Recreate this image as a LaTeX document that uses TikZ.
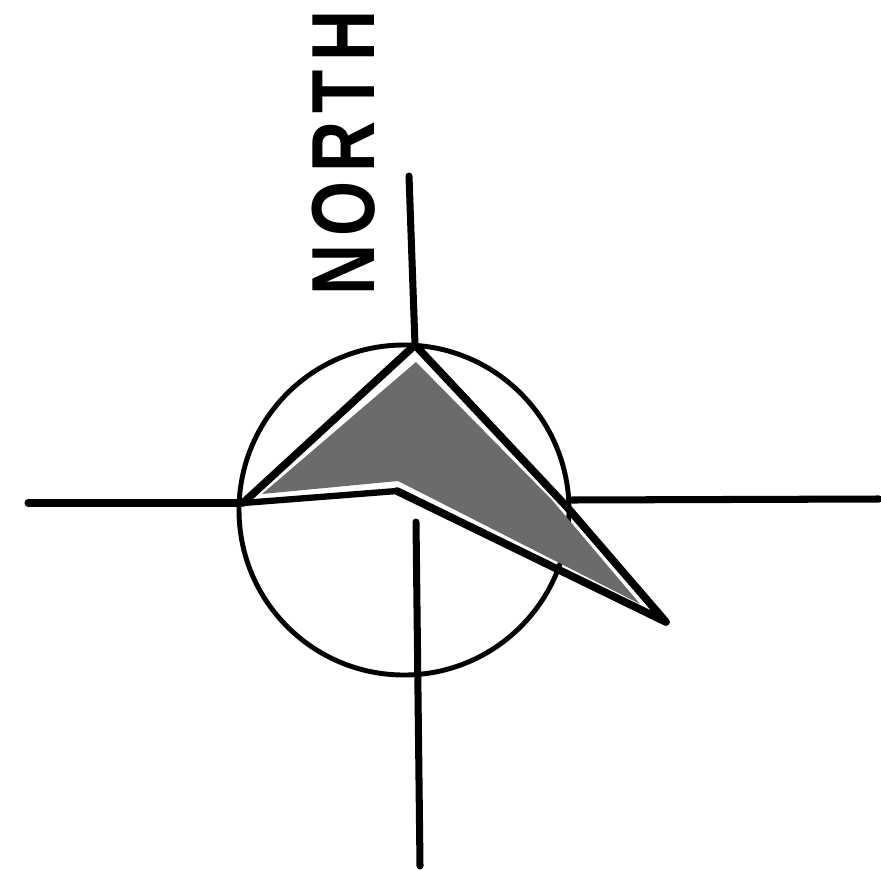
\documentclass[tikz,border=0pt]{standalone}
\usepackage{fontspec}
\setmainfont{Liberation Sans}
\usepackage{tikz}
\usetikzlibrary{positioning}

\begin{document}
\begin{tikzpicture}[x=0.02cm,y=-0.02cm,
  axisline/.style={line width=4pt, line cap=round},
  outline/.style={line width=4.4pt, line join=round, line cap=round}]
\def\ox{404}    % circle centre x
\def\oy{510}    % circle centre y
\useasboundingbox (0,0) rectangle (881,871);
%% Circle behind everything
\coordinate (centre) at (\ox,\oy);
\draw[line width=2.8pt] (centre) circle [radius=0.02*165 cm];
%% Compass lines
\coordinate (northend) at (409,176);
\coordinate (northfoot) at (415,345);
\coordinate (westend) at (28,503);
\coordinate (westfoot) at (240,503);
\coordinate (eastfoot) at (572,500);
\coordinate (eastend) at (879,499);
\coordinate (southtop) at (416,522);
\coordinate (southend) at (420,866);
\draw[axisline] (northend) -- (northfoot);
\draw[axisline] (westend) -- (westfoot);
\draw[axisline] (eastfoot) -- (eastend);
\draw[axisline] (southtop) -- (southend);
%% Shaded pointer, inset from its outline
\fill[black!58] (416,362) -- (552,500) -- (640,604) -- (398,481) -- (262,494) -- cycle;
%% Pointer outline
\coordinate (apex) at (415,345);
\coordinate (wing) at (243,503);
\coordinate (notch) at (397,491);
\coordinate (tip) at (666,622);
\coordinate (bend) at (567,507);
\draw[outline] (wing) -- (apex) -- (bend) -- (tip) -- (notch);
\draw[line width=3.6pt, line cap=round] (notch) -- (wing);
%% Label turned along the north line
\node[rotate=90, xscale=0.79, font=\bfseries\addfontfeatures{LetterSpace=12}\fontsize{51}{51}\selectfont, inner sep=0pt] (northlabel) at (344,153) {NORTH};
\end{tikzpicture}
\end{document}
